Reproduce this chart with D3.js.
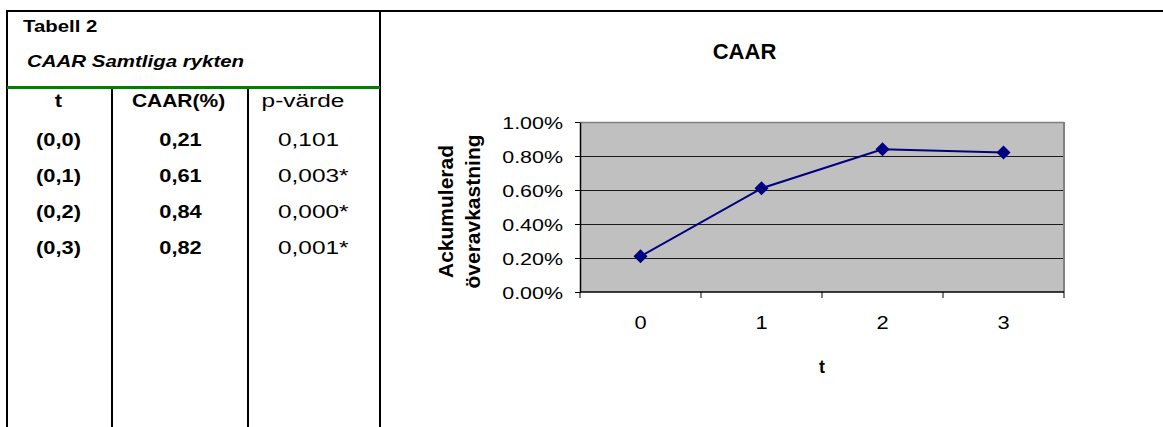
<!DOCTYPE html>
<html>
<head>
<meta charset="utf-8">
<script src="https://cdn.jsdelivr.net/npm/d3@7"></script>
<style>
  html, body { margin: 0; padding: 0; background: #fff; }
  svg { display: block; font-family: Arial, "Liberation Sans", sans-serif; }
</style>
</head>
<body>
<svg id="chart" width="1163" height="427"></svg>
<script>
// Table rows: event windows, cumulative average abnormal return (%) and p-values
const windows = ["(0,0)", "(0,1)", "(0,2)", "(0,3)"];
const caarPercent = [0.21, 0.61, 0.84, 0.82];
const pValues = ["0,101", "0,003*", "0,000*", "0,001*"];
const tableHeaders = ["t", "CAAR(%)", "p-värde"];

// Chart series: day t and CAAR in percent
const tDays = [0, 1, 2, 3];
const yTickValues = [0, 0.2, 0.4, 0.6, 0.8, 1.0];

const svg = d3.select("#chart");

// Horizontally stretched text helper (the document font renders wide)
function putText(g, str, x, y, opts) {
  const o = Object.assign({ size: 17, sx: 1, anchor: "start", weight: "normal", style: "normal" }, opts);
  return g.append("text")
    .attr("transform", `translate(${x},${y}) scale(${o.sx},1)`)
    .attr("text-anchor", o.anchor)
    .attr("font-size", o.size)
    .attr("font-weight", o.weight)
    .attr("font-style", o.style)
    .attr("fill", "#000")
    .text(str);
}

// ---------- Frame and table ----------
const frame = svg.append("g");
frame.append("line").attr("x1", 6).attr("x2", 1163).attr("y1", 11).attr("y2", 11)
  .attr("stroke", "#000").attr("stroke-width", 2);
frame.append("line").attr("x1", 7).attr("x2", 7).attr("y1", 10).attr("y2", 427)
  .attr("stroke", "#000").attr("stroke-width", 2);
frame.append("line").attr("x1", 380).attr("x2", 380).attr("y1", 10).attr("y2", 427)
  .attr("stroke", "#000").attr("stroke-width", 2);
frame.append("line").attr("x1", 7).attr("x2", 380).attr("y1", 87.5).attr("y2", 87.5)
  .attr("stroke", "#008000").attr("stroke-width", 3);
[112, 248].forEach(x => {
  frame.append("line").attr("x1", x).attr("x2", x).attr("y1", 89).attr("y2", 427)
    .attr("stroke", "#000").attr("stroke-width", 2);
});

const table = svg.append("g");
putText(table, "Tabell 2", 23, 31.5, { size: 17, sx: 1.2, weight: "bold" });
putText(table, "CAAR Samtliga rykten", 27, 67, { size: 16.5, sx: 1.24, weight: "bold", style: "italic" });

const colX = [58.5, 178.5, 303];
const BOLD = { size: 17.5, sx: 1.25, weight: "bold", anchor: "middle" };
const REG = { size: 18.5, sx: 1.32, anchor: "middle" };
putText(table, tableHeaders[0], colX[0], 107, BOLD);
putText(table, tableHeaders[1], colX[1], 107, Object.assign({}, BOLD, { sx: 1.2 }));
putText(table, tableHeaders[2], colX[2], 107, REG);

const rowY = d3.scaleLinear().domain([0, 3]).range([146, 254]);
const fmtComma = v => d3.format(".2f")(v).replace(".", ",");
windows.forEach((w, i) => {
  putText(table, w, colX[0], rowY(i), BOLD);
  putText(table, fmtComma(caarPercent[i]), colX[1] + 2, rowY(i), BOLD);
  putText(table, pValues[i], 278, rowY(i), Object.assign({}, REG, { anchor: "start" }));
});

// ---------- Chart ----------
const plot = { left: 580, right: 1064, top: 122, bottom: 292 };
const x = d3.scaleBand().domain(tDays).range([plot.left, plot.right]);
const y = d3.scaleLinear().domain([0, 1.0]).range([plot.bottom, plot.top]);

const chart = svg.append("g");

// Plot area background
chart.append("rect")
  .attr("x", plot.left).attr("y", plot.top)
  .attr("width", plot.right - plot.left).attr("height", plot.bottom - plot.top)
  .attr("fill", "#c0c0c0");

// Horizontal gridlines
chart.selectAll("line.grid")
  .data(yTickValues.filter(v => v > 0 && v < 1))
  .join("line")
  .attr("class", "grid")
  .attr("x1", plot.left).attr("x2", plot.right)
  .attr("y1", d => Math.round(y(d)) + 0.5).attr("y2", d => Math.round(y(d)) + 0.5)
  .attr("stroke", "#1a1a1a").attr("stroke-width", 1);

// Plot-area border (top and right)
chart.append("line").attr("x1", plot.left).attr("x2", plot.right)
  .attr("y1", plot.top + 0.5).attr("y2", plot.top + 0.5)
  .attr("stroke", "#808080").attr("stroke-width", 1.5);
chart.append("line").attr("x1", plot.right).attr("x2", plot.right)
  .attr("y1", plot.top).attr("y2", plot.bottom)
  .attr("stroke", "#808080").attr("stroke-width", 2);

// Y axis
const yAxis = chart.append("g")
  .attr("transform", `translate(${plot.left},0)`)
  .call(d3.axisLeft(y).tickValues(yTickValues).tickSize(5).tickSizeOuter(0)
    .tickFormat(v => v.toFixed(2) + "%"));
yAxis.select(".domain").attr("stroke", "#000").attr("stroke-width", 1.5);
yAxis.selectAll(".tick line").attr("stroke", "#000");
yAxis.selectAll(".tick text")
  .attr("x", null).attr("dy", null)
  .attr("transform", "translate(-17,6) scale(1.3,1)")
  .attr("font-size", 16.5).attr("font-family", null).attr("fill", "#000");

// X axis: ticks at category boundaries, labels at category centres
const xAxisG = chart.append("g").attr("transform", `translate(0,${plot.bottom})`);
xAxisG.append("line").attr("x1", plot.left).attr("x2", plot.right)
  .attr("stroke", "#000").attr("stroke-width", 1.5);
const boundaries = tDays.map(d => x(d)).concat([x.range()[1]]);
xAxisG.selectAll("line.tick")
  .data(boundaries)
  .join("line").attr("class", "tick")
  .attr("x1", d => d).attr("x2", d => d).attr("y1", 0).attr("y2", 6)
  .attr("stroke", "#000").attr("stroke-width", 1);
tDays.forEach(d => {
  putText(xAxisG, String(d), x(d) + x.bandwidth() / 2, 37, { size: 19, sx: 1.15, anchor: "middle" });
});

// Series line and diamond markers
const cx = d => x(d) + x.bandwidth() / 2;
const series = tDays.map((d, i) => ({ t: d, v: caarPercent[i] }));
chart.append("path")
  .datum(series)
  .attr("fill", "none").attr("stroke", "#000080").attr("stroke-width", 2)
  .attr("d", d3.line().x(d => cx(d.t)).y(d => y(d.v)));
chart.selectAll("path.marker")
  .data(series)
  .join("path").attr("class", "marker")
  .attr("d", "M0,-7L7,0L0,7L-7,0Z")
  .attr("transform", d => `translate(${cx(d.t)},${y(d.v)})`)
  .attr("fill", "#000080");

// Titles
putText(chart, "CAAR", 744.5, 58.5, { size: 22, weight: "bold", anchor: "middle" });
putText(chart, "t", 822, 372.5, { size: 18, weight: "bold", anchor: "middle" });
const yTitle = chart.append("g").attr("transform", "translate(453,211.5) rotate(-90)");
yTitle.append("text").attr("text-anchor", "middle").attr("font-size", 21).attr("font-weight", "bold")
  .text("Ackumulerad");
yTitle.append("text").attr("text-anchor", "middle").attr("font-size", 21).attr("font-weight", "bold")
  .attr("y", 27).text("överavkastning");
</script>
</body>
</html>
